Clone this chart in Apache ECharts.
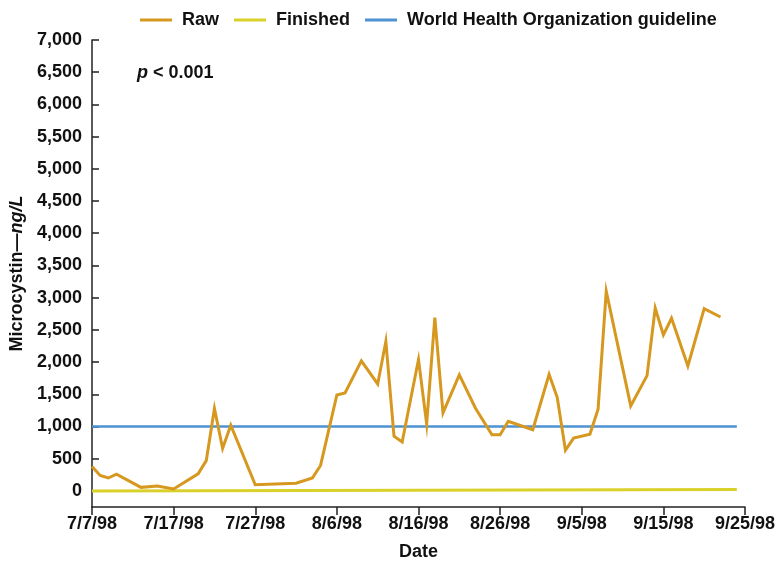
<!DOCTYPE html>
<html>
<head>
<meta charset="utf-8">
<script src="https://cdn.jsdelivr.net/npm/echarts@6/dist/echarts.min.js"></script>
<style>
  html, body { margin: 0; padding: 0; background: #fff; }
  #chart { width: 779px; height: 561px; }
</style>
</head>
<body>
<div id="chart"></div>
<script>
// Microcystin concentrations, summer 1998
const startDate = '7/7/98';
const dayTicks = [0, 10, 20, 30, 40, 50, 60, 70, 80];
const yTickValues = [0, 500, 1000, 1500, 2000, 2500, 3000, 3500, 4000, 4500, 5000, 5500, 6000, 6500, 7000];

const rawDates = ['7/7/98', '7/8/98', '7/9/98', '7/10/98', '7/13/98', '7/15/98', '7/17/98', '7/20/98',
  '7/21/98', '7/22/98', '7/23/98', '7/24/98', '7/27/98', '8/1/98', '8/3/98', '8/4/98', '8/6/98',
  '8/7/98', '8/9/98', '8/11/98', '8/12/98', '8/13/98', '8/14/98', '8/16/98', '8/17/98', '8/18/98',
  '8/19/98', '8/21/98', '8/23/98', '8/25/98', '8/26/98', '8/27/98', '8/30/98', '9/1/98', '9/2/98',
  '9/3/98', '9/4/98', '9/6/98', '9/7/98', '9/8/98', '9/11/98', '9/13/98', '9/14/98', '9/15/98',
  '9/16/98', '9/18/98', '9/20/98', '9/22/98'];
const rawValues = [380, 240, 200, 260, 55, 75, 30, 265,
  470, 1280, 660, 1020, 95, 120, 200, 395, 1490,
  1520, 2020, 1660, 2320, 850, 760, 2040, 1040, 2690,
  1210, 1800, 1280, 870, 870, 1080, 950, 1810, 1450,
  630, 820, 880, 1270, 3100, 1320, 1790, 2840, 2420,
  2680, 1940, 2830, 2700];

const finishedDates = ['7/7/98', '9/24/98'];
const finishedValues = [0, 20];

const guidelineDates = ['7/7/98', '9/24/98'];
const guidelineValues = [1000, 1000];

const DAY = 86400000;
function parseDate(s) {
  const [m, d, y] = s.split('/').map(Number);
  return Date.UTC(1900 + y, m - 1, d);
}
const t0 = parseDate(startDate);
function dayOffset(s) { return Math.round((parseDate(s) - t0) / DAY); }
function dayLabel(v) {
  const dt = new Date(t0 + v * DAY);
  return (dt.getUTCMonth() + 1) + '/' + dt.getUTCDate() + '/' + String(dt.getUTCFullYear()).slice(2);
}
function pairs(dates, values) { return dates.map((s, i) => [dayOffset(s), values[i]]); }

const FONT = 'Liberation Sans, Arial, sans-serif';
const INK = '#111';

const chart = echarts.init(document.getElementById('chart'), null, { renderer: 'canvas' });
chart.setOption({
  animation: false,
  backgroundColor: '#fff',
  textStyle: { fontFamily: FONT },
  title: {
    text: '{i|p} < 0.001',
    left: 137, top: 64, padding: 0,
    textStyle: {
      fontFamily: FONT, fontSize: 18, fontWeight: 'bold', color: INK,
      rich: { i: { fontFamily: FONT, fontSize: 18, fontWeight: 'bold', fontStyle: 'italic', color: INK } }
    }
  },
  legend: {
    left: 140, top: 11, padding: 0,
    icon: 'rect', itemWidth: 32, itemHeight: 3, itemGap: 15,
    textStyle: { fontFamily: FONT, fontSize: 18, fontWeight: 'bold', color: INK, padding: [0, 0, 0, 5] },
    data: ['Raw', 'Finished', 'World Health Organization guideline']
  },
  grid: { left: 92, right: 34, top: 40, bottom: 54, containLabel: false, outerBoundsMode: 'none' },
  xAxis: {
    type: 'value', min: 0, max: 80, interval: 10,
    name: 'Date', nameLocation: 'middle', nameGap: 36,
    nameTextStyle: { fontFamily: FONT, fontSize: 18, fontWeight: 'bold', color: INK },
    axisLine: { onZero: false, lineStyle: { color: '#222', width: 1.5 } },
    axisTick: { show: true, length: 8, inside: false, lineStyle: { color: '#222', width: 1.5 } },
    axisLabel: { margin: 8, fontFamily: FONT, fontSize: 18, fontWeight: 'bold', color: INK, formatter: dayLabel, showMinLabel: true, showMaxLabel: true },
    splitLine: { show: false }
  },
  yAxis: {
    type: 'value', min: -250, max: 7000,
    name: '{n|Microcystin—}{i|ng/L}', nameLocation: 'middle', nameGap: 64, nameRotate: 90,
    nameTextStyle: {
      fontFamily: FONT, fontSize: 18, fontWeight: 'bold', color: INK,
      rich: {
        n: { fontFamily: FONT, fontSize: 18, fontWeight: 'bold', color: INK },
        i: { fontFamily: FONT, fontSize: 18, fontWeight: 'bold', fontStyle: 'italic', color: INK }
      }
    },
    axisLine: { show: true, onZero: false, lineStyle: { color: '#222', width: 1.5 } },
    axisTick: { show: true, inside: true, length: 7, customValues: yTickValues, lineStyle: { color: '#222', width: 1.5 } },
    axisLabel: {
      margin: 10, fontFamily: FONT, fontSize: 18, fontWeight: 'bold', color: INK,
      customValues: yTickValues,
      formatter: v => v.toLocaleString('en-US')
    },
    splitLine: { show: false }
  },
  series: [
    {
      name: 'Raw', type: 'line', data: pairs(rawDates, rawValues),
      symbol: 'none', z: 4,
      lineStyle: { color: '#D6981F', width: 3, join: 'miter' },
      itemStyle: { color: '#D6981F' }
    },
    {
      name: 'Finished', type: 'line', data: pairs(finishedDates, finishedValues),
      symbol: 'none', z: 3,
      lineStyle: { color: '#D9D12A', width: 3 },
      itemStyle: { color: '#D9D12A' }
    },
    {
      name: 'World Health Organization guideline', type: 'line', data: pairs(guidelineDates, guidelineValues),
      symbol: 'none', z: 2,
      lineStyle: { color: '#4D92D2', width: 2.5 },
      itemStyle: { color: '#4D92D2' }
    }
  ]
});
</script>
</body>
</html>
